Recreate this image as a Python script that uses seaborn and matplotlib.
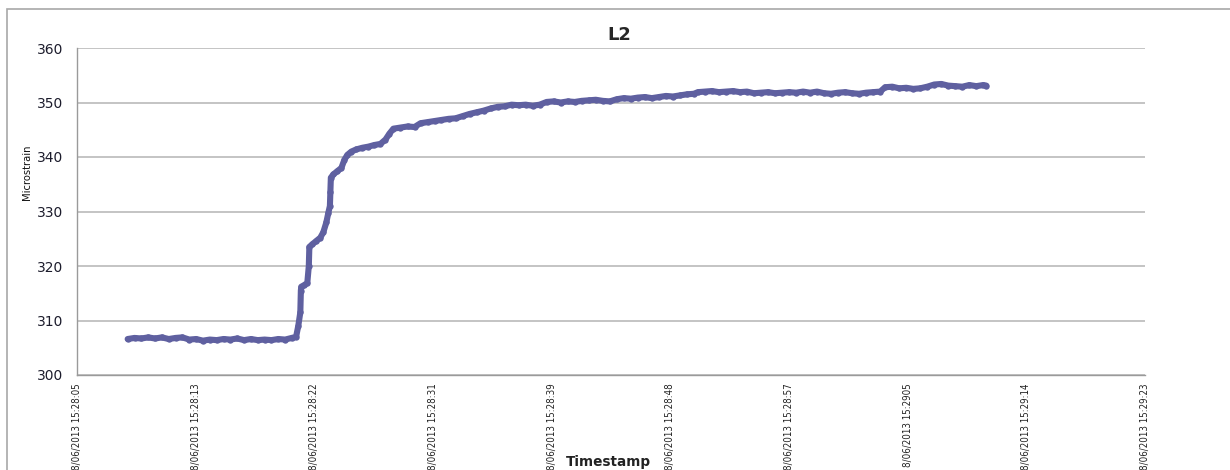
import matplotlib
matplotlib.use("Agg")
import matplotlib.pyplot as plt
import matplotlib.patches as mpatches
import seaborn as sns
import pandas as pd

# Seconds elapsed after 8/06/2013 15:28:05
seconds = [
    3.70, 4.20, 4.70, 5.20, 5.70, 6.20, 6.70, 7.20, 7.70, 8.20,
    8.70, 9.20, 9.70, 10.20, 10.70, 11.20, 11.70, 12.20, 12.70, 13.20,
    13.70, 14.20, 14.70, 15.20, 15.70, 16.00,
    16.16, 16.31, 16.35, 16.38, 16.60, 16.82, 16.93, 16.97, 17.19, 17.48,
    17.77, 17.99, 18.21, 18.36, 18.47, 18.50, 18.54, 18.72, 19.02, 19.31,
    19.53, 19.75, 20.04, 20.41, 20.85, 21.28, 21.72, 22.16, 22.53, 22.82,
    23.11, 23.62, 24.14, 24.65, 25.09, 25.60, 26.11, 26.62, 27.14, 27.65,
    28.16, 28.67, 29.18, 29.69, 30.21, 30.72, 31.23, 31.74, 32.25, 32.77,
    33.28, 33.79, 34.30, 34.81, 35.33, 35.84, 36.35, 36.86, 37.37, 37.89,
    38.40, 38.91, 39.42, 39.93, 40.45, 40.96, 41.47, 41.98, 42.49, 43.01,
    43.52, 44.03, 44.54, 45.05, 45.35, 45.86, 46.37, 46.88, 47.40, 47.91,
    48.42, 48.93, 49.44, 49.96, 50.47, 50.98, 51.49, 52.00, 52.52, 53.03,
    53.54, 54.05, 54.56, 55.07, 55.59, 56.10, 56.61, 57.12, 57.63, 58.15,
    58.66, 59.02, 59.54, 60.05, 60.56, 61.07, 61.58, 62.10, 62.61, 63.12,
    63.63, 64.14, 64.66, 65.17, 65.68, 66.19, 66.41,
]

microstrain = [
    306.6, 306.8, 306.7, 306.9, 306.7, 306.9, 306.6, 306.8, 306.9, 306.5,
    306.6, 306.3, 306.5, 306.4, 306.6, 306.5, 306.7, 306.4, 306.6, 306.4,
    306.5, 306.4, 306.6, 306.5, 306.8, 307.0,
    309.0, 311.5, 315.5, 316.2, 316.5, 316.9, 320.0, 323.5, 324.0, 324.6,
    325.2, 326.2, 328.0, 329.8, 331.0, 333.5, 336.2, 336.8, 337.4, 338.0,
    339.5, 340.4, 341.0, 341.4, 341.7, 341.9, 342.2, 342.4, 343.2, 344.3,
    345.2, 345.4, 345.6, 345.5, 346.2, 346.4, 346.6, 346.8, 347.0, 347.1,
    347.5, 347.9, 348.2, 348.5, 348.9, 349.2, 349.3, 349.6, 349.5, 349.6,
    349.4, 349.6, 350.1, 350.2, 350.0, 350.2, 350.1, 350.3, 350.4, 350.5,
    350.3, 350.2, 350.6, 350.8, 350.7, 350.9, 351.0, 350.8, 351.0, 351.2,
    351.1, 351.3, 351.5, 351.6, 351.9, 352.0, 352.1, 351.9, 352.0, 352.1,
    351.9, 352.0, 351.7, 351.8, 351.9, 351.7, 351.8, 351.9, 351.8, 352.0,
    351.8, 352.0, 351.7, 351.6, 351.8, 351.9, 351.7, 351.6, 351.8, 351.9,
    352.0, 352.8, 352.9, 352.6, 352.7, 352.5, 352.6, 352.9, 353.3, 353.4,
    353.1, 353.0, 352.9, 353.2, 353.0, 353.2, 353.1,
]

tick_labels = [
    "8/06/2013 15:28:05", "8/06/2013 15:28:13", "8/06/2013 15:28:22",
    "8/06/2013 15:28:31", "8/06/2013 15:28:39", "8/06/2013 15:28:48",
    "8/06/2013 15:28:57", "8/06/2013 15:2905", "8/06/2013 15:29:14",
    "8/06/2013 15:29:23",
]
y_ticks = [300, 310, 320, 330, 340, 350, 360]

df = pd.DataFrame({"Timestamp": seconds, "Microstrain": microstrain})

sns.set_style("white")
plt.rcParams["font.family"] = ["DejaVu Sans"]

fig = plt.figure(figsize=(12.3, 4.7), dpi=100)
ax = fig.add_axes([77 / 1230, 1 - 375 / 470, (1145 - 77) / 1230, (375 - 48) / 470])

line_color = "#5f60a0"
sns.lineplot(data=df, x="Timestamp", y="Microstrain", ax=ax, color=line_color,
             linewidth=4.4, marker="o", markersize=4.6, markeredgewidth=0,
             sort=True, errorbar=None)

x_span = 78.0
step = x_span / (len(tick_labels) - 1)
ax.set_xlim(0, x_span)
ax.set_ylim(300, 360)
ax.set_xticks([i * step for i in range(len(tick_labels))])
ax.set_xticklabels(tick_labels, rotation=90, fontsize=7.0,
                   family="DejaVu Sans", fontstretch="condensed",
                   color="#222222")
ax.set_yticks(y_ticks)
ax.set_yticklabels([str(v) for v in y_ticks], fontsize=10, color="#1c1c2c")

ax.grid(axis="y", color="#b4b4b4", linewidth=1.1)
ax.grid(axis="x", visible=False)
for side in ("top", "right"):
    ax.spines[side].set_visible(False)
for side in ("left", "bottom"):
    ax.spines[side].set_color("#9a9a9a")
    ax.spines[side].set_linewidth(1.0)
ax.tick_params(axis="both", which="major", direction="out", length=3.6,
               width=1.0, color="#9a9a9a")
ax.tick_params(axis="x", pad=2.2)
ax.tick_params(axis="y", pad=6.5)

ax.set_xlabel("")
ax.set_ylabel("")
ax.set_title("L2", fontsize=13, fontweight="bold", pad=6, x=0.508)

fig.text(608 / 1230, 1 - 462 / 470, "Timestamp", ha="center", va="center",
         fontsize=9.8, fontweight="bold", color="#222222")
fig.text(27 / 1230, 1 - 172 / 470, "Microstrain", ha="center", va="center",
         rotation=90, fontsize=8, fontstretch="condensed",
         color="#111111")

# Outer chart-area frame
frame = mpatches.Rectangle((7 / 1230, -0.1), 1.2, 1 - 9 / 470 + 0.1,
                           transform=fig.transFigure, fill=False,
                           edgecolor="#a8a8a8", linewidth=1.2)
fig.patches.append(frame)

fig.savefig("out.png", dpi=100)
